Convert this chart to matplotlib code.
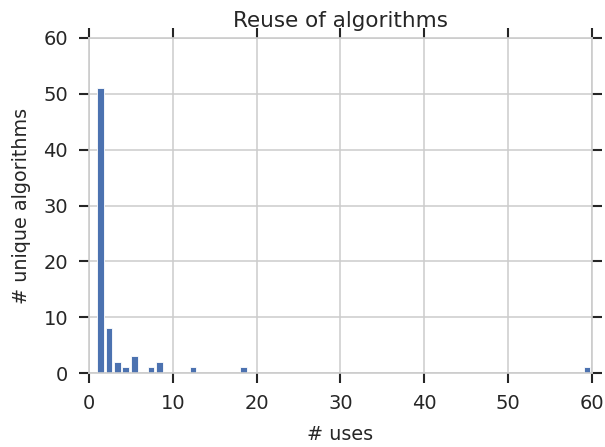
import matplotlib
matplotlib.use("Agg")
import matplotlib.pyplot as plt

# number of times an algorithm is used -> how many unique algorithms
uses = [1, 2, 3, 4, 5, 7, 8, 12, 18, 59]
counts = [51, 8, 2, 1, 3, 1, 2, 1, 1, 1]

xticks = [0, 10, 20, 30, 40, 50, 60]
yticks = [0, 10, 20, 30, 40, 50, 60]

text_color = "#262626"
light = "#cccccc"

plt.rcParams["font.family"] = "DejaVu Sans"
fig = plt.figure(figsize=(6.05, 4.47), dpi=100)
ax = fig.add_axes([0.147, 0.1655, 0.8315, 0.7495])

ax.bar(uses, counts, width=0.8, align="edge", color="#4C72B0",
       edgecolor="white", linewidth=0.6, zorder=2)

ax.set_xlim(0, 60)
ax.set_ylim(0, 60)
ax.set_xticks(xticks)
ax.set_yticks(yticks)

ax.grid(True, color=light, linewidth=1.1, zorder=0)
ax.set_axisbelow(True)
for s in ax.spines.values():
    s.set_color(light)
    s.set_linewidth(1.2)

ax.tick_params(axis="both", which="both", direction="out", length=7.5, width=1.5,
               color=text_color, labelcolor=text_color, labelsize=14,
               top=True, right=True, labeltop=False, labelright=False, pad=7.5)

ax.set_xlabel("# uses", fontsize=13.8, color=text_color, labelpad=9)
ax.set_ylabel("# unique algorithms", fontsize=13.8, color=text_color, labelpad=9)
ax.set_title("Reuse of algorithms", fontsize=15.5, color=text_color, pad=8)

fig.savefig("out.png", dpi=100)
